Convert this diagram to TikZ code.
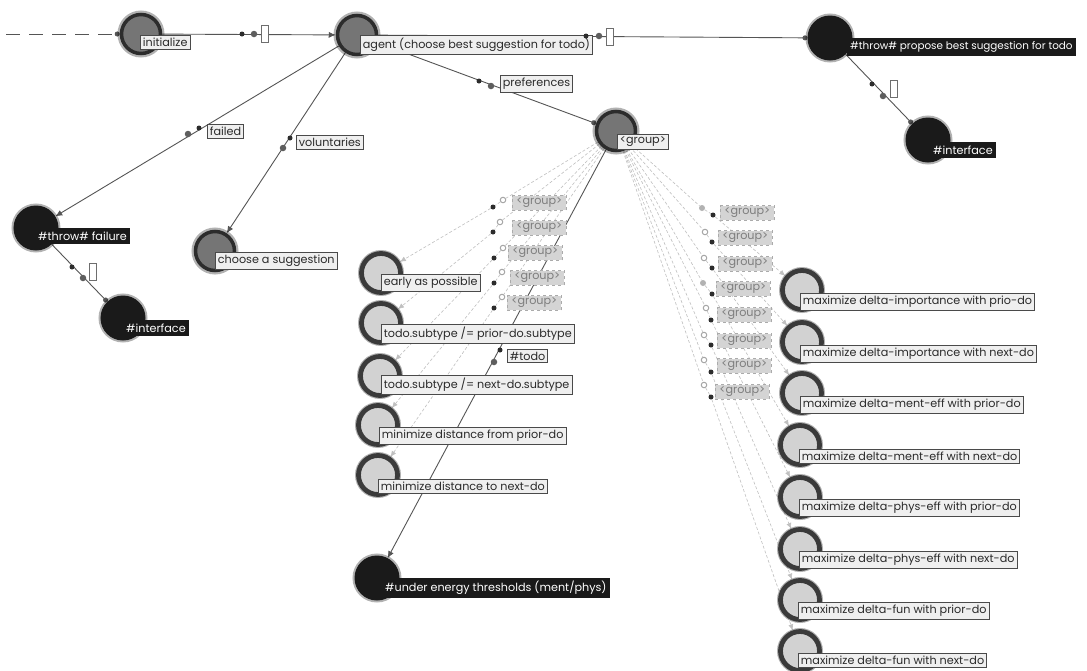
\documentclass[tikz,border=0pt]{standalone}
\usepackage{fontspec}
\setmainfont{Poppins}
\usetikzlibrary{arrows.meta,backgrounds}

\definecolor{procfill}{HTML}{757575}
\definecolor{procring}{HTML}{2C2C2C}
\definecolor{throwfill}{HTML}{1A1A1A}
\definecolor{consfill}{HTML}{D2D2D2}
\definecolor{consring}{HTML}{3A3A3A}
\definecolor{lblfill}{HTML}{EFEFEF}
\definecolor{lblborder}{HTML}{4A4A4A}
\definecolor{lbltext}{HTML}{2A2A2A}
\definecolor{faintfill}{HTML}{D4D4D4}
\definecolor{faintborder}{HTML}{ABABAB}
\definecolor{fainttext}{HTML}{7E7E7E}
\definecolor{linecol}{HTML}{555555}
\definecolor{fanline}{HTML}{C0C0C0}

\newcommand\labelfont{\fontsize{11.2}{12}\selectfont}
\newcommand\widelabelfont{\fontsize{10.4}{12}\selectfont}

\tikzset{
  halo/.style={preaction={draw=black, draw opacity=0.3, line width=#1}},
  proc/.style={circle, inner sep=0pt, minimum size=39pt, fill=procfill, draw=procring, line width=3.5pt, halo=8pt},
  throwc/.style={circle, inner sep=0pt, minimum size=44pt, fill=throwfill, draw=throwfill, line width=1pt, halo=5pt},
  cons/.style={circle, inner sep=0pt, minimum size=39pt, fill=consfill, draw=consring, line width=4.8pt, halo=7pt},
  lbl/.style={anchor=west, fill=lblfill, draw=lblborder, line width=0.8pt, text=lbltext, inner xsep=2.5pt, inner ysep=2.6pt, font=\labelfont},
  dlbl/.style={anchor=west, fill=throwfill, text=white, inner xsep=3pt, inner ysep=3.5pt, font=\labelfont},
  flbl/.style={anchor=west, fill=faintfill, draw=faintborder, dashed, line width=0.6pt, text=fainttext, inner xsep=4pt, inner ysep=2.6pt, font=\labelfont},
  conn/.style={draw=linecol, line width=0.9pt},
  arr/.style={conn, -{Latex[length=7pt,width=6pt]}},
  dotend/.style={conn, -{Circle[length=5pt]}},
  fan/.style={draw=fanline, line width=0.6pt, dash pattern=on 3pt off 2pt},
  fanarr/.style={fan, -{Latex[length=6pt,width=5pt]}},
  mk/.style={circle, inner sep=0pt, minimum size=5pt, fill=procring},
  mkb/.style={circle, inner sep=0pt, minimum size=6.5pt, fill=procfill!80!black},
  ring/.style={circle, inner sep=0pt, minimum size=5.5pt, draw=gray!70, line width=1pt, fill=white},
  ringf/.style={circle, inner sep=0pt, minimum size=6pt, fill=gray!60},
  slot/.style={rectangle, inner sep=0pt, minimum width=7pt, minimum height=17pt, draw=lblborder!80, line width=0.7pt, fill=white},
}

\begin{document}
\begin{tikzpicture}[x=1pt,y=-1pt]
\useasboundingbox (0,0) rectangle (1087,670);

% ---- process nodes
\node[proc] (init) at (141,34) {};
\node[proc] (agent) at (357,35) {};
\node[proc] (choose) at (215,251) {};
\node[proc] (grp) at (616,131) {};

% ---- throw nodes
\node[throwc] (tpro) at (830,38) {};
\node[throwc] (ifaceA) at (928,140) {};
\node[throwc] (tfail) at (36,228) {};
\node[throwc] (ifaceB) at (123,318) {};
\node[throwc] (under) at (377,578) {};

% ---- constraint nodes, left column
\node[cons] (early) at (381,273) {};
\node[cons] (tprior) at (381,323) {};
\node[cons] (tnext) at (380,376) {};
\node[cons] (mfrom) at (378,425) {};
\node[cons] (mto) at (378,475) {};

% ---- constraint nodes, right column
\node[cons] (m1) at (802,290) {};
\node[cons] (m2) at (802,342) {};
\node[cons] (m3) at (802,393) {};
\node[cons] (m4) at (800,445) {};
\node[cons] (m5) at (800,497) {};
\node[cons] (m6) at (800,549) {};
\node[cons] (m7) at (800,600) {};
\node[cons] (m8) at (800,651) {};

% ---- node labels
\node[lbl] (initL) at (140,42) {initialize};
\node[lbl] (agentL) at (360,45) {agent (choose best suggestion for todo)};
\node[lbl] (chooseL) at (215,261) {choose a suggestion};
\node[lbl] (grpL) at (617,142) {<group>};
\node[dlbl, font=\widelabelfont] (tproL) at (847,47) {\#throw\# propose best suggestion for todo};
\node[dlbl] (ifaceAL) at (930,150) {\#interface};
\node[dlbl] (tfailL) at (35,236) {\#throw\# failure};
\node[dlbl] (ifaceBL) at (123,328) {\#interface};
\node[dlbl] (underL) at (382,588) {\#under energy thresholds (ment/phys)};

\node[lbl] (earlyL) at (381,283) {early as possible};
\node[lbl] (tpriorL) at (381,334) {todo.subtype /= prior-do.subtype};
\node[lbl] (tnextL) at (381,385) {todo.subtype /= next-do.subtype};
\node[lbl] (mfromL) at (379,436) {minimize distance from prior-do};
\node[lbl] (mtoL) at (378,486) {minimize distance to next-do};

\node[lbl] (m1L) at (800,302) {maximize delta-importance with prio-do};
\node[lbl] (m2L) at (800,354) {maximize delta-importance with next-do};
\node[lbl] (m3L) at (800,405) {maximize delta-ment-eff with prior-do};
\node[lbl] (m4L) at (799,456) {maximize delta-ment-eff with next-do};
\node[lbl] (m5L) at (799,508) {maximize delta-phys-eff with prior-do};
\node[lbl] (m6L) at (799,560) {maximize delta-phys-eff with next-do};
\node[lbl] (m7L) at (798,611) {maximize delta-fun with prior-do};
\node[lbl] (m8L) at (798,660) {maximize delta-fun with next-do};

% ---- connector labels
\node[lbl] (failL) at (207,131) {failed};
\node[lbl] (volL) at (296,142) {voluntaries};
\node[lbl] (prefL) at (500,84) {preferences};
\node[lbl] (todoL) at (507,356) {\#todo};

% ---- faded group labels, left column
\node[flbl] (g1) at (512,203) {<group>};
\node[flbl] (g2) at (512,228) {<group>};
\node[flbl] (g3) at (508,253) {<group>};
\node[flbl] (g4) at (510,278) {<group>};
\node[flbl] (g5) at (507,303) {<group>};
\node[ring] (g1r) at (503,200) {}; \node[mk] (g1d) at (493,207) {};
\node[ring] (g2r) at (500,222) {}; \node[mk] (g2d) at (493,232) {};
\node[ring] (g3r) at (503,248) {}; \node[mk] (g3d) at (494,258) {};
\node[ring] (g4r) at (502,272) {}; \node[mk] (g4d) at (494,283) {};
\node[ring] (g5r) at (502,297) {}; \node[mk] (g5d) at (494,308) {};

% ---- faded group labels, right column
\node[flbl] (r1) at (720,213) {<group>};
\node[flbl] (r2) at (718,238) {<group>};
\node[flbl] (r3) at (718,264) {<group>};
\node[flbl] (r4) at (716,289) {<group>};
\node[flbl] (r5) at (717,315) {<group>};
\node[flbl] (r6) at (717,341) {<group>};
\node[flbl] (r7) at (717,366) {<group>};
\node[flbl] (r8) at (715,392) {<group>};
\node[ringf] (r1r) at (702,208) {}; \node[mk] (r1d) at (713,215) {};
\node[ring] (r2r) at (705,232) {}; \node[mk] (r2d) at (712,242) {};
\node[ring] (r3r) at (704,258) {}; \node[mk] (r3d) at (712,268) {};
\node[ringf] (r4r) at (703,283) {}; \node[mk] (r4d) at (712,294) {};
\node[ring] (r5r) at (706,308) {}; \node[mk] (r5d) at (711,320) {};
\node[ring] (r6r) at (704,335) {}; \node[mk] (r6d) at (711,345) {};
\node[ring] (r7r) at (704,360) {}; \node[mk] (r7d) at (711,372) {};
\node[ring] (r8r) at (704,385) {}; \node[mk] (r8d) at (711,397) {};

% ---- markers along the connectors
\node[mk] (a1) at (242,34) {}; \node[mkb] (a2) at (254,34) {}; \node[slot] (a3) at (265,34) {};
\node[mk] (b1) at (586,36) {}; \node[mkb] (b2) at (599,36) {}; \node[slot] (b3) at (610,37) {};
\node[mk] (c1) at (872,84) {}; \node[mkb] (c2) at (883,96) {}; \node[slot] (c3) at (894,89) {};
\node[mk] (d1) at (72,267) {}; \node[mkb] (d2) at (83,278) {}; \node[slot] (d3) at (93,272) {};
\node[mk] (e1) at (199,128) {}; \node[mkb] (e2) at (188,134) {};
\node[mk] (f1) at (290,138) {}; \node[mkb] (f2) at (283,148) {};
\node[mk] (h1) at (479,81) {}; \node[mkb] (h2) at (491,86) {};
\node[mk] (k1) at (500,350) {}; \node[mkb] (k2) at (494,362) {};

% ---- connectors, beneath every node
\begin{scope}[on background layer]
  \fill[white] (0,0) rectangle (1087,670);
  \coordinate (entry) at (6,34);
  \draw[dotend, dash pattern=on 14pt off 9pt] (entry) -- (init);
  \draw[arr] (init) -- (agent);
  \draw[dotend] (agent) -- (tpro);
  \draw[dotend] (tpro) -- (ifaceA);
  \draw[arr] (agent) -- (tfail);
  \draw[dotend] (tfail) -- (ifaceB);
  \draw[arr] (agent) -- (choose);
  \draw[dotend] (agent) -- (grp);
  \draw[arr] (grp) -- (under);

  % faded preference branches
  \draw[fanarr] (grp) -- (g1r) -- (g1d) -- (early);
  \draw[fanarr] (grp) -- (g2r) -- (g2d) -- (tprior);
  \draw[fanarr] (grp) -- (g3r) -- (g3d) -- (tnext);
  \draw[fanarr] (grp) -- (g4r) -- (g4d) -- (mfrom);
  \draw[fanarr] (grp) -- (g5r) -- (g5d) -- (mto);
  \draw[fanarr] (grp) -- (r1r) -- (r1d) -- (m1);
  \draw[fanarr] (grp) -- (r2r) -- (r2d) -- (m2);
  \draw[fanarr] (grp) -- (r3r) -- (r3d) -- (m3);
  \draw[fanarr] (grp) -- (r4r) -- (r4d) -- (m4);
  \draw[fanarr] (grp) -- (r5r) -- (r5d) -- (m5);
  \draw[fanarr] (grp) -- (r6r) -- (r6d) -- (m6);
  \draw[fanarr] (grp) -- (r7r) -- (r7d) -- (m7);
  \draw[fanarr] (grp) -- (r8r) -- (r8d) -- (m8);
\end{scope}
\end{tikzpicture}
\end{document}
